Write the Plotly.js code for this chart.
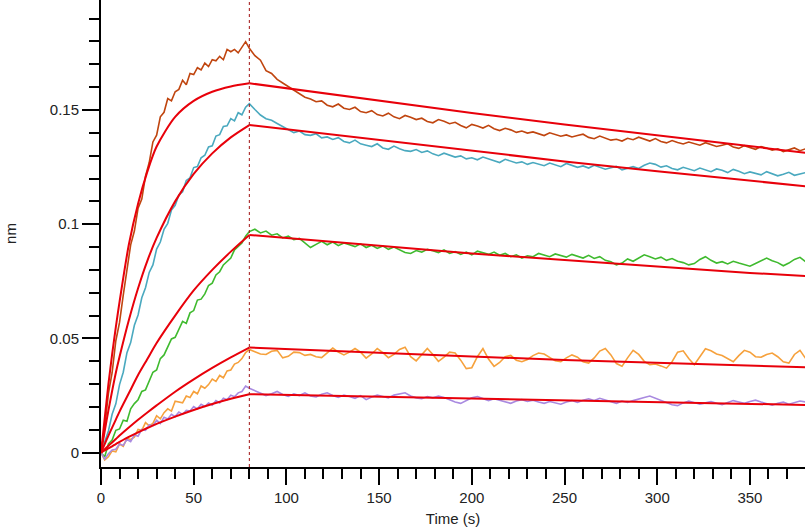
<!DOCTYPE html>
<html>
<head>
<meta charset="utf-8">
<script src="https://cdn.plot.ly/plotly-3.0.1.min.js"></script>
<style>html,body{margin:0;padding:0;background:#fff;}#chart{width:805px;height:529px;}</style>
</head>
<body>
<div id="chart"></div>
<script>
// ---- time bases (s) ----
const tAssoc = [0,2,4,6,8,10,12,14,16,18,20,22,24,26,28,30,32,34,36,38,40,42,44,46,48,50,52,54,56,58,60,62,64,66,68,70,72,74,76,78,80];
const tDissoc = [83,86,89,92,95,98,101,104,107,110,113,116,119,122,125,128,131,134,137,140,
  143,146,149,152,155,158,161,164,167,170,173,176,179,182,185,188,191,194,197,200,
  203,206,209,212,215,218,221,224,227,230,233,236,239,242,245,248,251,254,257,260,
  263,266,269,272,275,278,281,284,287,290,293,296,299,302,305,308,311,314,317,320,
  323,326,329,332,335,338,341,344,347,350,353,356,359,362,365,368,371,374,377,380];
const tFitAssoc = [0,2,4,6,8,10,15,20,25,30,40,50,60,70,80];
const tFitDissoc = [80,100,150,200,250,300,350,380];
const stepBoundary = [80];

// ---- measured responses (nm) ----
const brownAssoc = [0,0.011,0.026,0.035,0.049,0.057,0.069,0.079,0.091,0.097,0.107,0.111,0.121,0.127,0.136,0.139,0.147,0.149,0.155,0.154,0.158,0.159,0.163,0.161,0.166,0.1655,0.1685,0.1675,0.1705,0.169,0.172,0.1715,0.1735,0.172,0.1765,0.1755,0.1765,0.175,0.1775,0.1799,0.1770];
const brownDissoc = [0.1738,0.1718,0.1672,0.1660,0.1634,0.1618,0.1602,0.1588,0.1570,0.1556,
  0.1548,0.1536,0.1540,0.1521,0.1514,0.1526,0.1508,0.1502,0.1512,0.1493,
  0.1488,0.1497,0.1480,0.1474,0.1486,0.1470,0.1462,0.1476,0.1468,0.1458,
  0.1464,0.1450,0.1444,0.1458,0.1451,0.1440,0.1446,0.1432,0.1422,0.1437,
  0.1430,0.1421,0.1433,0.1418,0.1410,0.1420,0.1413,0.1402,0.1408,0.1399,
  0.1404,0.1396,0.1388,0.1400,0.1394,0.1385,0.1391,0.1382,0.1388,0.1394,
  0.1380,0.1374,0.1386,0.1378,0.1368,0.1372,0.1364,0.1376,0.1370,0.1381,
  0.1372,0.1364,0.1375,0.1362,0.1356,0.1366,0.1358,0.1351,0.1360,0.1354,
  0.1346,0.1357,0.1350,0.1340,0.1346,0.1352,0.1338,0.1332,0.1344,0.1336,
  0.1328,0.1340,0.1334,0.1324,0.1330,0.1318,0.1326,0.1334,0.1322,0.1330];

const tealAssoc = [0,0.0045,0.0095,0.0168,0.0214,0.0298,0.0352,0.0438,0.0482,0.0558,0.0603,0.0678,0.0722,0.0789,0.0822,0.0891,0.0922,0.0978,0.1004,0.1062,0.1083,0.1128,0.1142,0.1191,0.1203,0.1248,0.1252,0.1291,0.1302,0.1338,0.1343,0.1386,0.1392,0.1428,0.1431,0.1462,0.1452,0.1488,0.1479,0.1512,0.1528];
const tealDissoc = [0.1502,0.1478,0.1462,0.1455,0.1441,0.1428,0.1412,0.1401,0.1408,0.1392,
  0.1389,0.1396,0.1378,0.1382,0.1371,0.1379,0.1362,0.1356,0.1368,0.1352,
  0.1346,0.1340,0.1352,0.1334,0.1328,0.1342,0.1330,0.1322,0.1319,0.1327,
  0.1314,0.1321,0.1308,0.1300,0.1311,0.1302,0.1294,0.1299,0.1286,0.1291,
  0.1282,0.1294,0.1287,0.1279,0.1270,0.1284,0.1276,0.1268,0.1273,0.1262,
  0.1270,0.1264,0.1256,0.1268,0.1260,0.1252,0.1266,0.1258,0.1249,0.1255,
  0.1246,0.1258,0.1250,0.1241,0.1247,0.1253,0.1238,0.1245,0.1252,0.1244,
  0.1258,0.1268,0.1262,0.1250,0.1256,0.1244,0.1238,0.1249,0.1242,0.1234,
  0.1246,0.1238,0.1230,0.1242,0.1236,0.1226,0.1240,0.1232,0.1221,0.1229,
  0.1224,0.1216,0.1230,0.1222,0.1212,0.1219,0.1227,0.1214,0.1220,0.1226];

const greenAssoc = [0,-0.0018,0.0038,0.0055,0.0098,0.0104,0.0142,0.0138,0.0192,0.0215,0.0232,0.0268,0.0275,0.0318,0.0352,0.0362,0.0412,0.0428,0.0462,0.0498,0.0505,0.0542,0.0575,0.0566,0.0612,0.0622,0.0668,0.0672,0.0695,0.0732,0.0742,0.0778,0.0792,0.0822,0.0835,0.0852,0.0888,0.0902,0.0918,0.0948,0.0968];
const greenDissoc = [0.0978,0.0962,0.0970,0.0952,0.0958,0.0940,0.0948,0.0932,0.0938,0.0920,
  0.0898,0.0912,0.0925,0.0910,0.0922,0.0906,0.0918,0.0910,0.0902,0.0914,
  0.0898,0.0908,0.0894,0.0905,0.0890,0.0900,0.0888,0.0876,0.0872,0.0885,
  0.0878,0.0890,0.0884,0.0876,0.0888,0.0872,0.0880,0.0868,0.0878,0.0866,
  0.0882,0.0876,0.0868,0.0878,0.0864,0.0872,0.0858,0.0866,0.0852,0.0862,
  0.0858,0.0872,0.0866,0.0858,0.0870,0.0862,0.0856,0.0868,0.0860,0.0852,
  0.0864,0.0850,0.0858,0.0842,0.0836,0.0822,0.0830,0.0848,0.0838,0.0852,
  0.0866,0.0858,0.0848,0.0856,0.0842,0.0850,0.0838,0.0832,0.0822,0.0828,
  0.0846,0.0858,0.0842,0.0830,0.0836,0.0826,0.0838,0.0830,0.0822,0.0816,
  0.0828,0.0840,0.0852,0.0840,0.0832,0.0818,0.0830,0.0846,0.0855,0.0836];

const orangeAssoc = [0,-0.0032,-0.0018,0.0008,0.0004,0.0038,0.0028,0.0062,0.0058,0.0068,0.0102,0.0098,0.0132,0.0118,0.0128,0.0162,0.0148,0.0175,0.0192,0.0182,0.0225,0.0222,0.0218,0.0248,0.0242,0.0268,0.0258,0.0292,0.0282,0.0298,0.0322,0.0312,0.0338,0.0328,0.0358,0.0362,0.0388,0.0395,0.0412,0.0438,0.0452];
const orangeDissoc = [0.0442,0.0432,0.0430,0.0444,0.0448,0.0415,0.0422,0.0440,0.0438,0.0426,
  0.0430,0.0420,0.0416,0.0438,0.0458,0.0440,0.0428,0.0440,0.0456,0.0440,
  0.0414,0.0432,0.0456,0.0438,0.0416,0.0430,0.0452,0.0462,0.0420,0.0402,
  0.0430,0.0456,0.0430,0.0400,0.0418,0.0440,0.0436,0.0405,0.0368,0.0372,
  0.0420,0.0456,0.0410,0.0378,0.0395,0.0420,0.0426,0.0405,0.0398,0.0408,
  0.0425,0.0436,0.0432,0.0415,0.0402,0.0398,0.0415,0.0428,0.0418,0.0398,
  0.0392,0.0415,0.0445,0.0456,0.0428,0.0390,0.0378,0.0415,0.0448,0.0430,
  0.0400,0.0385,0.0388,0.0380,0.0370,0.0398,0.0440,0.0446,0.0412,0.0385,
  0.0422,0.0455,0.0446,0.0432,0.0425,0.0410,0.0398,0.0425,0.0448,0.0440,
  0.0420,0.0418,0.0430,0.0436,0.0420,0.0398,0.0392,0.0430,0.0448,0.0413];

const purpleAssoc = [0,-0.0028,-0.0005,0.0012,0.0015,0.0038,0.0032,0.0058,0.0048,0.0078,0.0072,0.0102,0.0098,0.0122,0.0118,0.0142,0.0128,0.0155,0.0148,0.0168,0.0158,0.0178,0.0168,0.0185,0.0182,0.0202,0.0192,0.0212,0.0202,0.0218,0.0208,0.0228,0.0218,0.0238,0.0232,0.0252,0.0245,0.0262,0.0268,0.0292,0.0282];
const purpleDissoc = [0.0272,0.0262,0.0250,0.0258,0.0268,0.0255,0.0246,0.0258,0.0250,0.0262,
  0.0248,0.0244,0.0256,0.0262,0.0250,0.0242,0.0252,0.0246,0.0238,0.0250,
  0.0232,0.0244,0.0252,0.0246,0.0240,0.0252,0.0258,0.0262,0.0248,0.0240,
  0.0236,0.0246,0.0240,0.0248,0.0242,0.0232,0.0222,0.0216,0.0228,0.0240,
  0.0246,0.0236,0.0228,0.0236,0.0230,0.0222,0.0216,0.0226,0.0232,0.0224,
  0.0230,0.0222,0.0216,0.0224,0.0218,0.0212,0.0222,0.0228,0.0220,0.0230,
  0.0236,0.0228,0.0238,0.0230,0.0222,0.0216,0.0226,0.0220,0.0228,0.0236,
  0.0242,0.0248,0.0238,0.0228,0.0218,0.0210,0.0206,0.0218,0.0226,0.0220,
  0.0212,0.0218,0.0224,0.0216,0.0210,0.0220,0.0228,0.0222,0.0216,0.0224,
  0.0230,0.0222,0.0214,0.0208,0.0216,0.0222,0.0212,0.0220,0.0226,0.0222];

// ---- fitted curves (nm) ----
const fit1Assoc = [0,0.015,0.030,0.043,0.055,0.066,0.091,0.109,0.123,0.134,0.147,0.154,0.158,0.1603,0.1617];
const fit1Dissoc = [0.1617,0.1595,0.1540,0.1487,0.1436,0.1388,0.1340,0.1313];
const fit2Assoc = [0,0.0095,0.0185,0.027,0.035,0.042,0.058,0.072,0.084,0.094,0.110,0.122,0.131,0.138,0.1434];
const fit2Dissoc = [0.1434,0.1415,0.1367,0.1320,0.1275,0.1232,0.1190,0.1166];
const fit3Assoc = [0,0.0038,0.0075,0.011,0.0145,0.018,0.026,0.034,0.041,0.048,0.060,0.071,0.080,0.088,0.0953];
const fit3Dissoc = [0.0953,0.0939,0.0905,0.0872,0.0843,0.0814,0.0787,0.0773];
const fit4Assoc = [0,0.0015,0.003,0.0045,0.006,0.0075,0.011,0.0144,0.0176,0.0207,0.0267,0.0321,0.0371,0.0417,0.0460];
const fit4Dissoc = [0.0460,0.0453,0.0437,0.0421,0.0406,0.0394,0.0382,0.0374];
const fit5Assoc = [0,0.001,0.0019,0.0028,0.0038,0.0047,0.0069,0.0089,0.0108,0.0126,0.0158,0.0187,0.0213,0.0236,0.0256];
const fit5Dissoc = [0.0256,0.0253,0.0246,0.0239,0.0231,0.0224,0.0215,0.0209];

const seriesColors = ['#c0450f','#4aa9bf','#3fba2e','#f6a13c','#a98ae0'];
const fitColor = '#e8000a';

const tAll = tAssoc.concat(tDissoc);
const measured = [
  brownAssoc.concat(brownDissoc),
  tealAssoc.concat(tealDissoc),
  greenAssoc.concat(greenDissoc),
  orangeAssoc.concat(orangeDissoc),
  purpleAssoc.concat(purpleDissoc)
];
const fitsA = [fit1Assoc, fit2Assoc, fit3Assoc, fit4Assoc, fit5Assoc];
const fitsD = [fit1Dissoc, fit2Dissoc, fit3Dissoc, fit4Dissoc, fit5Dissoc];

const traces = [];
measured.forEach((y, i) => {
  traces.push({x: tAll, y: y, type: 'scatter', mode: 'lines',
    line: {color: seriesColors[i], width: 1.6}, hoverinfo: 'skip'});
});
fitsA.forEach((y, i) => {
  traces.push({x: tFitAssoc, y: y, type: 'scatter', mode: 'lines',
    line: {color: fitColor, width: 2, shape: 'spline', smoothing: 0.8}, hoverinfo: 'skip'});
  traces.push({x: tFitDissoc, y: fitsD[i], type: 'scatter', mode: 'lines',
    line: {color: fitColor, width: 2}, hoverinfo: 'skip'});
});

const fontFam = '"Liberation Sans", Arial, sans-serif';
const layout = {
  width: 805, height: 529,
  margin: {l: 101, r: 0, t: 0, b: 62, pad: 0},
  paper_bgcolor: '#fff', plot_bgcolor: '#fff',
  showlegend: false,
  font: {family: fontFam, size: 15, color: '#222'},
  xaxis: {
    range: [0, 379.7], showgrid: false, zeroline: false,
    showline: true, linecolor: '#000', linewidth: 2,
    ticks: 'outside', ticklen: 16, tickwidth: 2, tickcolor: '#000',
    dtick: 50, tick0: 0,
    minor: {dtick: 10, ticklen: 10, tickwidth: 2, tickcolor: '#000', ticks: 'outside', showgrid: false},
    title: {text: 'Time (s)', font: {family: fontFam, size: 15, color: '#222'}, standoff: 8},
    automargin: false
  },
  yaxis: {
    range: [-0.00626, 0.19814], showgrid: false, zeroline: false,
    showline: true, linecolor: '#000', linewidth: 2,
    ticks: 'outside', ticklen: 17, tickwidth: 2, tickcolor: '#000',
    tickvals: [0, 0.05, 0.1, 0.15], ticktext: ['0', '0.05', '0.1', '0.15'],
    minor: {dtick: 0.01, tick0: 0, ticklen: 10, tickwidth: 2, tickcolor: '#000', ticks: 'outside', showgrid: false},
    title: {text: 'nm', font: {family: fontFam, size: 15, color: '#222'}, standoff: 30},
    automargin: false
  },
  shapes: stepBoundary.map(v => ({
    type: 'line', xref: 'x', yref: 'paper', x0: v, x1: v, y0: 0, y1: 1,
    line: {color: '#a01010', width: 1, dash: 'dot'}
  }))
};

Plotly.newPlot('chart', traces, layout, {staticPlot: true, displayModeBar: false});
</script>
</body>
</html>
